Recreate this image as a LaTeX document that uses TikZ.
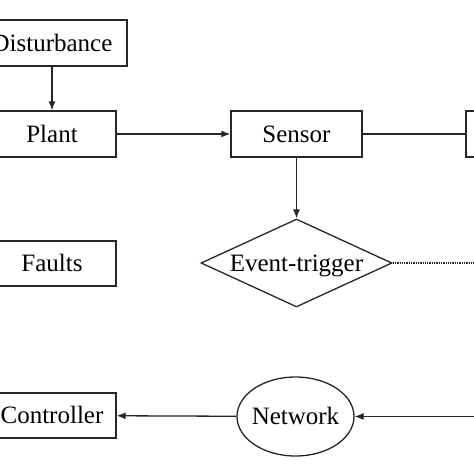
\documentclass[tikz,border=0pt]{standalone}
\usepackage{fontspec}
\setmainfont{Liberation Serif}
\usetikzlibrary{shapes.geometric,arrows.meta}
\begin{document}
\begin{tikzpicture}[x=1pt,y=-1pt,
  every node/.style={font=\fontsize{25}{30}\selectfont, inner sep=0pt, line width=1.3pt, draw=black!85, text height=16.5pt, text depth=0pt},
  blk/.style={rectangle, minimum height=46pt},
  trig/.style={diamond, aspect=2.17, minimum width=191pt, minimum height=88pt},
  netw/.style={ellipse, minimum width=117pt, minimum height=79pt},
  conn/.style={line width=1.3pt, draw=black!85},
  arr/.style={conn, -{Latex[length=9pt,width=7pt]}},
  dotline/.style={conn, densely dotted}
]
\useasboundingbox (0,0) rectangle (474,474);
\node[blk, minimum width=150pt] (dist) at (52,43) {Disturbance};
\node[blk, minimum width=128pt] (plant) at (52,134) {Plant};
\node[blk, minimum width=131pt] (sensor) at (296.5,134) {Sensor};
\node[blk, minimum width=131pt] (rbox) at (531.5,134) {};
\node[trig] (event) at (296.5,263) {\makebox[0pt]{Event-trigger}};
\node[blk, minimum width=128pt, minimum height=45pt] (faults) at (52,263.5) {Faults};
\node[blk, minimum width=128pt, minimum height=45pt] (ctrl) at (52,415.5) {Controller};
\node[netw] (net) at (295.5,416.5) {\makebox[0pt]{Network}};
\coordinate (dotend) at (480,263);
\coordinate (inend) at (480,416.5);
\draw[arr] (dist) -- (plant);
\draw[arr] (plant) -- (sensor);
\draw[conn] (sensor) -- (rbox);
\draw[arr] (sensor) -- (event);
\draw[dotline] (event.east) -- (dotend);
\draw[arr] (net) -- (ctrl);
\draw[arr] (inend) -- (net.east);
\end{tikzpicture}
\end{document}
